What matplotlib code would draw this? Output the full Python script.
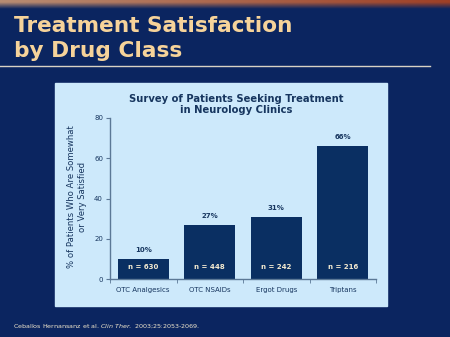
import numpy as np
import matplotlib.pyplot as plt
from matplotlib.patches import Rectangle

# drug classes and share of satisfied patients (%)
classes = ["OTC Analgesics", "OTC NSAIDs", "Ergot Drugs", "Triptans"]
satisfied = [10, 27, 31, 66]
n_patients = [630, 448, 242, 216]
y_ticks = [0, 20, 40, 60, 80]

navy = "#0b2560"
panel = "#cde9fb"
bar_col = "#0a2f62"
peach = "#f6d39a"
text_col = "#17365f"

W, H = 450, 337
fig = plt.figure(figsize=(W / 100, H / 100), dpi=100, facecolor=navy)

# slide background in pixel coordinates
bg = fig.add_axes([0, 0, 1, 1])
bg.set_xlim(0, W)
bg.set_ylim(H, 0)
bg.axis("off")
bg.add_patch(Rectangle((0, 0), W, H, color=navy, zorder=0))

# copper banner strip at the top
xs = np.linspace(0, 1, 200)
ys = np.linspace(0, 1, 20)
X, Y = np.meshgrid(xs, ys)
c0 = np.array([0.72, 0.55, 0.45])
c1 = np.array([0.62, 0.25, 0.15])
nv = np.array([0x0b, 0x25, 0x60]) / 255
strip = c0[None, None, :] * (1 - X[..., None]) + c1[None, None, :] * X[..., None]
fade = np.clip(Y * 1.3 - 0.3, 0, 1)[..., None]
strip = strip * (1 - fade) + nv[None, None, :] * fade
bg.imshow(strip, extent=[0, W, 9, 0], aspect="auto", zorder=1)

bg.text(14, 32, "Treatment Satisfaction", color=peach, fontsize=15.6,
        fontweight="bold", ha="left", va="baseline")
bg.text(14, 57, "by Drug Class", color=peach, fontsize=15.6,
        fontweight="bold", ha="left", va="baseline")
bg.plot([0, 430], [66, 66], color="#d8d2c4", lw=1)

bg.add_patch(Rectangle((55, 83), 332, 223, color=panel, zorder=1))

bg.text(236, 104.5, "Survey of Patients Seeking Treatment\nin Neurology Clinics",
        color=text_col, fontsize=7.2, fontweight="bold", ha="center",
        va="center", linespacing=1.15)
bg.text(77, 197, "% of Patients Who Are Somewhat\nor Very Satisfied",
        color=text_col, fontsize=6.1, ha="center", va="center",
        rotation=90, linespacing=1.3)

bg.text(13, 326, "Ceballos Hernansanz et al. $\\it{Clin\\ Ther.}$ 2003;25:2053-2069.",
        color="#f0e6cc", fontsize=4.6, ha="left", va="center")

# bar chart
ax = fig.add_axes([110 / W, (H - 279) / H, 266 / W, (279 - 118) / H])
ax.set_facecolor("none")
x = np.arange(len(classes))
bars = ax.bar(x, satisfied, width=0.77, color=bar_col, zorder=2)
ax.set_xlim(-0.5, len(classes) - 0.5)
ax.set_ylim(0, 80)

for xi, v, n in zip(x, satisfied, n_patients):
    ax.text(xi, v + 3, f"{v}%", ha="center", va="bottom",
            color=text_col, fontsize=5, fontweight="bold")
    ax.text(xi, 6, f"n = {n}", ha="center", va="center",
            color="#f4ead0", fontsize=5, fontweight="bold")

ax.set_yticks(y_ticks)
ax.set_yticklabels([str(t) for t in y_ticks], fontsize=5, color=text_col)
ax.set_xticks(x)
ax.set_xticklabels(classes, fontsize=5, color=text_col)
ax.tick_params(axis="x", length=0, pad=6)
ax.set_xticks(np.arange(-0.5, len(classes)), minor=True)
ax.tick_params(axis="x", which="minor", length=3, color="#5b7896")
ax.tick_params(axis="y", length=3, color="#5b7896", pad=2)
for s in ["top", "right"]:
    ax.spines[s].set_visible(False)
for s in ["left", "bottom"]:
    ax.spines[s].set_color("#5b7896")
    ax.spines[s].set_linewidth(1)

fig.savefig("out.png", dpi=100, facecolor=navy)
